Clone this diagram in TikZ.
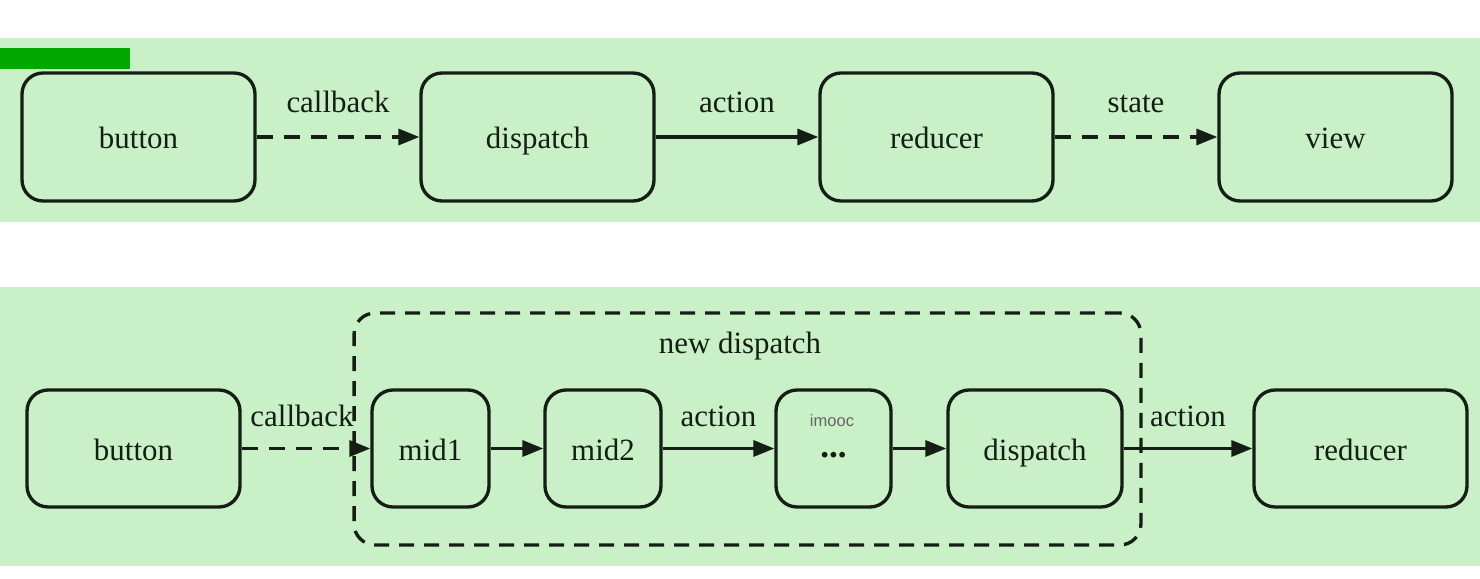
\documentclass[tikz,border=0pt]{standalone}
\usepackage{fontspec}
\setmainfont{Liberation Serif}
\newfontfamily\wmfont{Liberation Sans}
\usetikzlibrary{arrows.meta}
\definecolor{band}{HTML}{C9F0C6}
\definecolor{ink}{HTML}{141E14}
\definecolor{tag}{HTML}{00A800}
\tikzset{
  lbl/.style={text=ink, font=\fontsize{17.6}{20}\selectfont, text height=0.55cm, text depth=0.07cm},
  box/.style={draw=ink, line width=1.9pt, rounded corners=0.42cm, fill=band, minimum height=#1, inner sep=0pt, lbl},
  conn/.style={draw=ink, line width=1.9pt, -{Triangle[length=0.42cm,width=0.32cm]}},
  dashconn/.style={conn, dash pattern=on 0.32cm off 0.22cm},
}
\begin{document}
\begin{tikzpicture}[x=0.02cm,y=-0.02cm]
\useasboundingbox (0,0) rectangle (1480,578);
\fill[white] (0,0) rectangle (1480,578);
\fill[band] (0,38) rectangle (1480,222);
\fill[band] (0,287) rectangle (1480,566);
\fill[tag] (0,48) rectangle (130,69);
% top row
\node[box=2.56cm, minimum width=4.66cm] (b1) at (138.5,137) {button};
\node[box=2.56cm, minimum width=4.66cm] (d1) at (537.5,137) {dispatch};
\node[box=2.56cm, minimum width=4.66cm] (r1) at (936.5,137) {reducer};
\node[box=2.56cm, minimum width=4.66cm] (v1) at (1335.5,137) {view};
\draw[dashconn] (b1) -- (d1) node[midway, yshift=0.74cm, lbl] (l1) {callback};
\draw[conn] (d1) -- (r1) node[midway, yshift=0.74cm, lbl] (l2) {action};
\draw[dashconn] (r1) -- (v1) node[midway, yshift=0.74cm, lbl] (l3) {state};
% bottom row
\node[draw=ink, line width=1.9pt, rounded corners=0.42cm, dash pattern=on 0.3cm off 0.2cm, minimum width=15.74cm, minimum height=4.64cm] (nd) at (747.5,429) {};
\node[lbl] (ndl) at (740,341) {new dispatch};
\node[box=2.34cm, minimum width=4.26cm] (b2) at (133.5,448.5) {button};
\node[box=2.34cm, minimum width=2.34cm] (m1) at (430.5,448.5) {mid1};
\node[box=2.34cm, minimum width=2.32cm] (m2) at (603,448.5) {mid2};
\node[box=2.34cm, minimum width=2.3cm] (e) at (833.5,448.5) {};
\node[text=ink, inner sep=0pt, font=\fontsize{20}{22}\selectfont\bfseries] (dots) at (833.5,455) {...};
\node[text=gray!80!black, inner sep=0pt, font=\wmfont\fontsize{9.4}{11}\selectfont] (wm) at (832,421) {imooc};
\node[box=2.34cm, minimum width=3.48cm] (d2) at (1035,448.5) {dispatch};
\node[box=2.34cm, minimum width=4.26cm] (r2) at (1360.5,448.5) {reducer};
\draw[dashconn] (b2) -- (m1) node[midway, xshift=-0.08cm, yshift=0.68cm, lbl] (l4) {callback};
\draw[conn] (m1) -- (m2);
\draw[conn] (m2) -- (e) node[midway, yshift=0.68cm, lbl] (l5) {action};
\draw[conn] (e) -- (d2);
\draw[conn] (d2) -- (r2) node[midway, yshift=0.68cm, lbl] (l6) {action};
\end{tikzpicture}
\end{document}
